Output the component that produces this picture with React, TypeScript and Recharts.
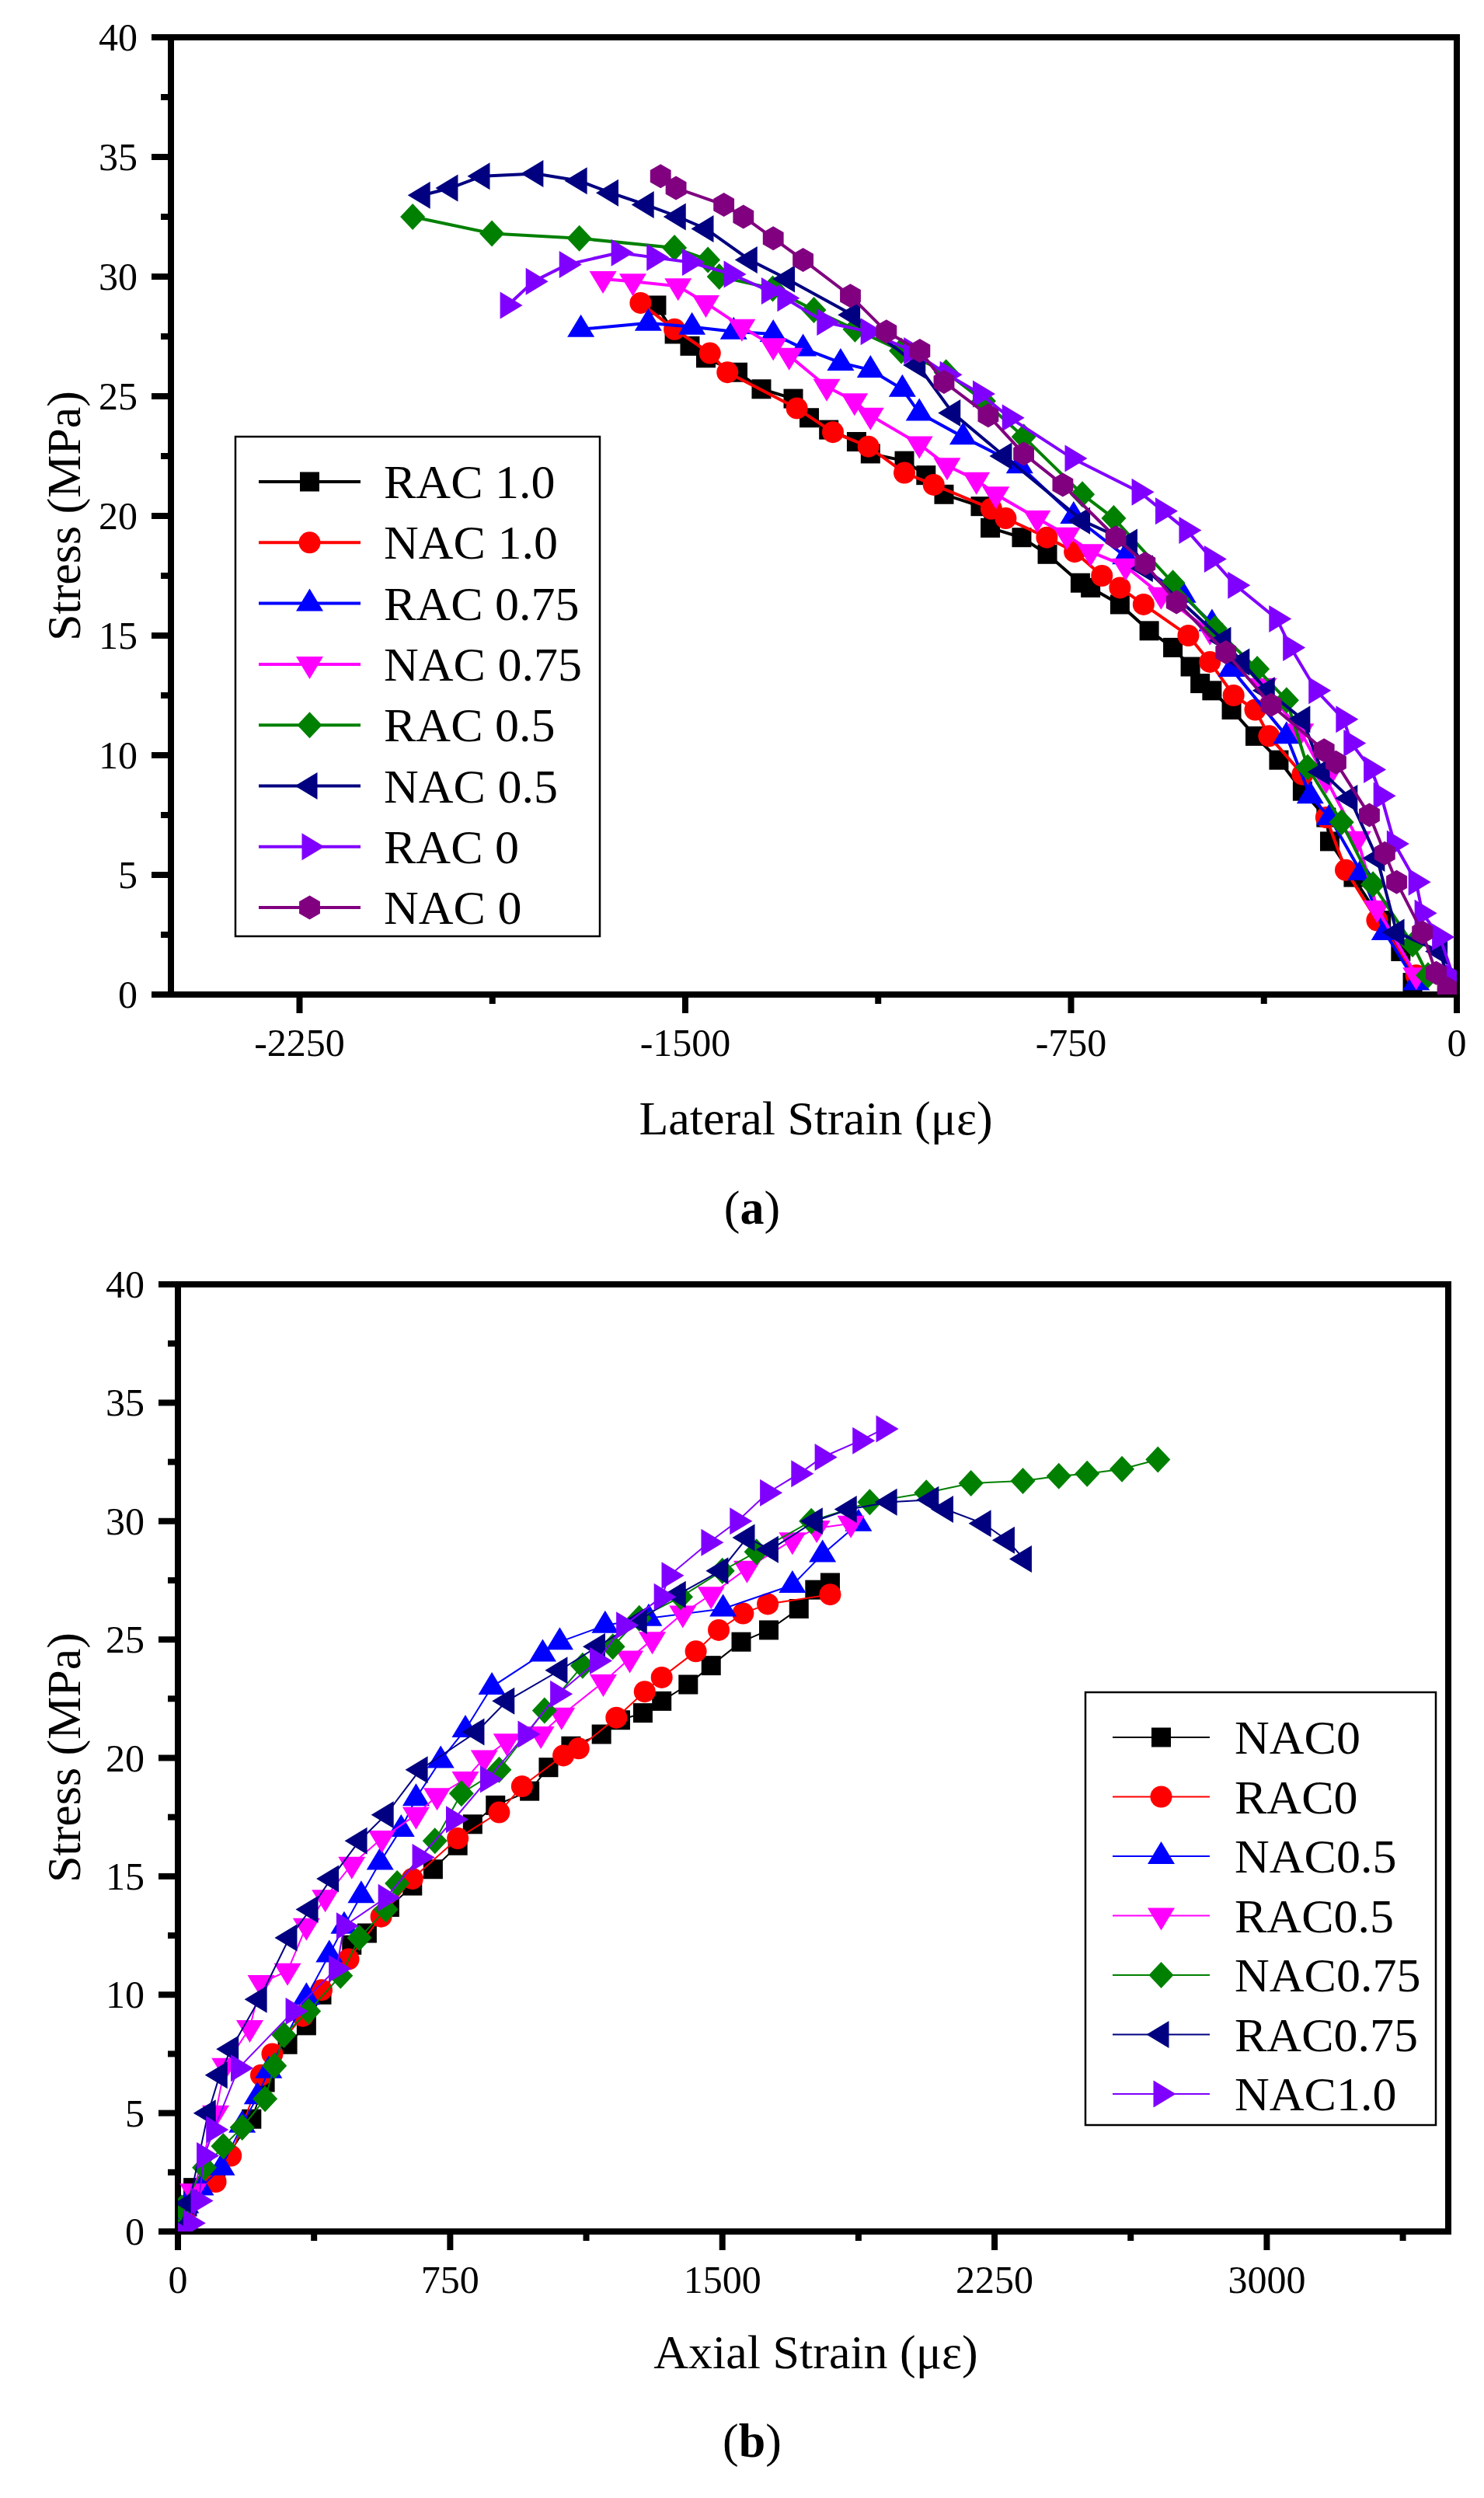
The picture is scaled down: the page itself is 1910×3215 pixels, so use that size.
import React from 'react';
import { ScatterChart, Scatter, XAxis, YAxis, ReferenceLine } from 'recharts';

const FONT = '"Liberation Serif", "Times New Roman", serif';
const TXT = { fontFamily: FONT };

// ---------------- Panel (a): Lateral strain ----------------
const aXTicksMajor = [-2250, -1500, -750, 0];
const aXTicksMinor = [-1875, -1125, -375];
const yTicksMajor = [0, 5, 10, 15, 20, 25, 30, 35, 40];
const yTicksMinor = [2.5, 7.5, 12.5, 17.5, 22.5, 27.5, 32.5, 37.5];

const aNames = ['RAC 1.0', 'NAC 1.0', 'RAC 0.75', 'NAC 0.75', 'RAC 0.5', 'NAC 0.5', 'RAC 0', 'NAC 0'];
const aColors = ['#000000', '#FF0000', '#0000FF', '#FF00FF', '#008000', '#000080', '#8000FF', '#800080'];
const aShapes = ['square', 'circle', 'up', 'down', 'diamond', 'left', 'right', 'hex'];

const aRAC10 = [[-1556,28.8],[-1521,27.6],[-1491,27.1],[-1460,26.6],[-1398,26.0],[-1352,25.3],[-1290,24.9],[-1259,24.1],[-1221,23.6],[-1167,23.1],[-1140,22.6],[-1074,22.3],[-1032,21.7],[-997,20.9],[-926,20.4],[-907,19.5],[-846,19.1],[-796,18.4],[-732,17.2],[-712,17.0],[-655,16.3],[-598,15.2],[-552,14.5],[-518,13.7],[-499,13.0],[-476,12.7],[-438,11.9],[-392,10.8],[-346,9.8],[-300,8.5],[-254,7.4],[-247,6.4],[-201,4.9],[-147,3.1],[-109,1.8],[-86,0.5]];
const aNAC10 = [[-1587,28.9],[-1521,27.8],[-1452,26.8],[-1418,26.0],[-1283,24.5],[-1213,23.5],[-1144,22.9],[-1074,21.8],[-1017,21.3],[-905,20.3],[-877,19.9],[-797,19.1],[-743,18.5],[-690,17.5],[-655,17.0],[-609,16.3],[-522,15.0],[-480,13.9],[-434,12.5],[-392,11.9],[-365,10.8],[-300,9.2],[-254,7.4],[-216,5.2],[-155,3.1],[-79,0.8]];
const aRAC075 = [[-1703,27.8],[-1572,28.06],[-1487,27.9],[-1406,27.7],[-1329,27.6],[-1271,27.0],[-1198,26.4],[-1140,26.1],[-1078,25.3],[-1045,24.3],[-960,23.3],[-850,22.1],[-745,20.0],[-644,18.3],[-533,16.7],[-476,15.5],[-438,13.6],[-331,10.8],[-285,8.3],[-247,7.4],[-186,5.1],[-140,2.6],[-79,0.5]];
const aNAC075 = [[-1660,29.9],[-1602,29.8],[-1514,29.6],[-1460,28.9],[-1390,27.9],[-1329,27.1],[-1298,26.7],[-1225,25.4],[-1171,24.8],[-1140,24.2],[-1045,23.0],[-991,22.1],[-934,21.5],[-896,20.9],[-816,19.9],[-758,19.2],[-712,18.5],[-644,17.9],[-575,16.7],[-480,15.2],[-376,12.9],[-304,11.0],[-254,9.0],[-193,6.5],[-155,3.6],[-79,0.8]];
const aRAC05 = [[-2030,32.5],[-1876,31.8],[-1706,31.6],[-1521,31.2],[-1456,30.7],[-1434,30.0],[-1330,29.5],[-1250,28.6],[-1170,27.8],[-1080,26.9],[-993,26.0],[-920,24.8],[-842,23.3],[-728,20.9],[-667,19.9],[-552,17.2],[-470,15.3],[-388,13.6],[-331,12.3],[-290,9.5],[-224,7.2],[-163,4.6],[-86,2.1],[-56,0.8]];
const aNAC05 = [[-2011,33.4],[-1957,33.7],[-1895,34.2],[-1791,34.3],[-1706,34.0],[-1645,33.5],[-1576,33.0],[-1514,32.5],[-1460,32.0],[-1375,30.7],[-1302,29.9],[-1175,28.4],[-1048,26.3],[-980,24.3],[-880,22.5],[-728,19.8],[-636,18.9],[-606,17.8],[-454,14.8],[-418,13.9],[-369,12.7],[-300,11.5],[-262,9.3],[-208,8.2],[-155,5.7],[-117,2.6],[-33,1.8],[-10,0.2]];
const aRAC0 = [[-1845,28.8],[-1795,29.8],[-1730,30.5],[-1629,31.0],[-1560,30.8],[-1491,30.6],[-1410,30.1],[-1337,29.4],[-1306,29.1],[-1229,28.1],[-1144,27.7],[-1060,26.9],[-990,25.9],[-926,25.1],[-869,24.1],[-747,22.4],[-617,21.0],[-571,20.2],[-525,19.4],[-476,18.2],[-430,17.1],[-350,15.7],[-323,14.5],[-273,12.7],[-220,11.5],[-205,10.5],[-166,9.4],[-147,8.3],[-121,6.3],[-79,4.7],[-67,3.4],[-33,2.4],[-6,0.7]];
const aNAC0 = [[-1548,34.2],[-1518,33.7],[-1425,33.0],[-1387,32.5],[-1329,31.6],[-1271,30.7],[-1179,29.2],[-1109,27.7],[-1044,26.9],[-997,25.6],[-911,24.2],[-842,22.6],[-766,21.3],[-663,19.1],[-606,18.0],[-545,16.4],[-449,14.3],[-361,12.1],[-258,10.2],[-235,9.7],[-170,7.5],[-140,5.9],[-117,4.7],[-67,2.6],[-40,0.9],[-18,0.25]];
const aSeries = [aRAC10, aNAC10, aRAC075, aNAC075, aRAC05, aNAC05, aRAC0, aNAC0];

// ---------------- Panel (b): Axial strain ----------------
const bXTicksMajor = [0, 750, 1500, 2250, 3000];
const bXTicksMinor = [375, 1125, 1875, 2625, 3375];

const bNames = ['NAC0', 'RAC0', 'NAC0.5', 'RAC0.5', 'NAC0.75', 'RAC0.75', 'NAC1.0'];
const bColors = ['#000000', '#FF0000', '#0000FF', '#FF00FF', '#008000', '#000080', '#8000FF'];
const bShapes = ['square', 'circle', 'up', 'down', 'diamond', 'left', 'right'];

const bNAC0 = [[0,0],[16,0.2],[42,1.85],[104,2.4],[203,4.75],[240,6.3],[302,7.9],[354,8.7],[396,10.0],[479,12.1],[521,12.6],[583,13.7],[646,14.6],[703,15.3],[771,16.3],[812,17.2],[875,18.0],[969,18.6],[1021,19.6],[1083,20.5],[1167,21.0],[1219,21.6],[1281,21.9],[1333,22.4],[1406,23.1],[1469,23.9],[1552,24.9],[1628,25.4],[1711,26.3],[1755,27.1],[1797,27.4]];
const bRAC0 = [[0,0],[21,0.8],[104,2.1],[146,3.2],[229,6.6],[260,7.5],[344,9.1],[396,10.2],[470,11.5],[560,13.3],[646,14.9],[771,16.6],[885,17.7],[948,18.8],[1062,20.1],[1104,20.4],[1208,21.7],[1286,22.8],[1333,23.4],[1427,24.5],[1490,25.4],[1557,26.1],[1625,26.5],[1797,26.9]];
const bNAC05 = [[0,0],[21,1.1],[62,1.85],[120,2.7],[177,4.5],[219,5.7],[250,6.8],[354,9.9],[417,11.7],[458,12.9],[505,14.2],[557,15.6],[615,17.0],[656,18.3],[724,19.9],[792,21.2],[865,23.0],[1005,24.4],[1052,24.9],[1177,25.6],[1297,25.9],[1502,26.3],[1693,27.3],[1776,28.6],[1875,29.9]];
const bRAC05 = [[0,0],[42,1.7],[104,5.0],[130,7.0],[198,8.6],[229,10.5],[302,11.0],[354,12.9],[406,14.1],[479,15.5],[562,16.6],[656,17.6],[714,18.4],[792,19.1],[844,20.0],[906,20.7],[1000,21.0],[1057,21.8],[1172,23.2],[1245,24.2],[1307,25.0],[1391,26.1],[1469,26.9],[1568,28.0],[1693,29.2],[1760,29.7],[1854,29.9]];
const bNAC075 = [[0,0],[10,1.0],[73,2.7],[125,3.6],[177,4.4],[240,5.6],[266,7.0],[292,8.3],[360,9.3],[448,10.8],[500,12.4],[573,13.6],[604,14.7],[708,16.5],[781,18.5],[885,19.5],[1010,22.0],[1115,23.9],[1198,24.7],[1271,25.9],[1385,26.8],[1500,27.9],[1594,28.7],[1745,30.0],[1906,30.8],[2062,31.2],[2185,31.6],[2328,31.7],[2427,31.9],[2505,32.0],[2601,32.2],[2700,32.6]];
const bRAC075 = [[0,0],[31,1.2],[83,5.0],[115,6.6],[146,7.7],[224,9.8],[307,12.4],[365,13.6],[422,14.9],[500,16.5],[573,17.6],[667,19.5],[823,21.1],[906,22.4],[1052,23.7],[1156,24.7],[1271,25.8],[1378,26.9],[1495,27.9],[1568,29.3],[1633,28.8],[1755,30.0],[1849,30.5],[1960,30.8],[2075,30.9],[2115,30.5],[2219,29.9],[2284,29.2],[2331,28.4]];
const bNAC10 = [[0,0],[36,0.35],[57,1.3],[73,3.2],[99,4.3],[167,6.9],[318,9.3],[437,11.1],[458,12.9],[573,14.1],[667,15.8],[760,17.4],[854,19.1],[958,21.0],[1047,22.7],[1156,24.1],[1229,25.6],[1333,26.8],[1354,27.7],[1463,29.1],[1542,30.0],[1625,31.2],[1711,32.0],[1776,32.7],[1880,33.4],[1945,33.9]];
const bSeries = [bNAC0, bRAC0, bNAC05, bRAC05, bNAC075, bRAC075, bNAC10];

// ---------------- helpers ----------------
function markerEl(kind: string, cx: number, cy: number, color: string, key?: any) {
  switch (kind) {
    case 'square':
      return <rect key={key} x={cx - 12.5} y={cy - 12.5} width={25} height={25} fill={color} />;
    case 'circle':
      return <circle key={key} cx={cx} cy={cy} r={14} fill={color} />;
    case 'up':
      return <polygon key={key} points={`${cx},${cy - 19} ${cx + 17.5},${cy + 10} ${cx - 17.5},${cy + 10}`} fill={color} />;
    case 'down':
      return <polygon key={key} points={`${cx},${cy + 19} ${cx + 17.5},${cy - 10} ${cx - 17.5},${cy - 10}`} fill={color} />;
    case 'left':
      return <polygon key={key} points={`${cx - 19},${cy} ${cx + 10},${cy - 17.5} ${cx + 10},${cy + 17.5}`} fill={color} />;
    case 'right':
      return <polygon key={key} points={`${cx + 19},${cy} ${cx - 10},${cy - 17.5} ${cx - 10},${cy + 17.5}`} fill={color} />;
    case 'diamond':
      return <polygon key={key} points={`${cx},${cy - 17} ${cx + 16},${cy} ${cx},${cy + 17} ${cx - 16},${cy}`} fill={color} />;
    case 'hex': {
      const r = 15.5;
      const pts = [0, 1, 2, 3, 4, 5]
        .map((i) => {
          const a = (Math.PI / 3) * i + Math.PI / 6;
          return `${cx + r * Math.cos(a)},${cy + r * Math.sin(a)}`;
        })
        .join(' ');
      return <polygon key={key} points={pts} fill={color} />;
    }
    default:
      return <circle key={key} cx={cx} cy={cy} r={12} fill={color} />;
  }
}

const makeShape = (kind: string, color: string) => (p: any) => {
  const cx = p.cx ?? (p.x + (p.width || 0) / 2);
  const cy = p.cy ?? (p.y + (p.height || 0) / 2);
  return markerEl(kind, cx, cy, color);
};

const makeXTick = (majors: number[]) => (props: any) => {
  const { x, y, payload } = props;
  const v = payload.value;
  const major = majors.includes(v);
  return (
    <g>
      <line x1={x} y1={y} x2={x} y2={y + (major ? 24 : 12)} stroke="#000" strokeWidth={8} />
      {major && (
        <text x={x} y={y + 79} textAnchor="middle" fontFamily={FONT} style={TXT} fontSize={50} fill="#000">
          {String(v)}
        </text>
      )}
    </g>
  );
};

const makeYTick = () => (props: any) => {
  const { x, y, payload } = props;
  const v = payload.value;
  const major = yTicksMajor.includes(v);
  return (
    <g>
      <line x1={x} y1={y} x2={x - (major ? 25 : 13)} y2={y} stroke="#000" strokeWidth={8} />
      {major && (
        <text x={x - 43} y={y + 17} textAnchor="end" fontFamily={FONT} style={TXT} fontSize={50} fill="#000">
          {String(v)}
        </text>
      )}
    </g>
  );
};

const toPts = (arr: number[][]) => arr.map(([x, y]) => ({ x, y }));

interface PanelProps {
  width: number;
  height: number;
  margin: { top: number; right: number; bottom: number; left: number };
  yAxisWidth: number;
  xDomain: [number, number];
  xMajor: number[];
  xMinor: number[];
  rightX: number;
  series: number[][][];
  colors: string[];
  shapes: string[];
  lineWidth: number;
}

function Panel(p: PanelProps) {
  const xTicks = [...p.xMajor, ...p.xMinor].sort((a, b) => a - b);
  const yTicks = [...yTicksMajor, ...yTicksMinor].sort((a, b) => a - b);
  return (
    <ScatterChart width={p.width} height={p.height} margin={p.margin}>
      <XAxis
        type="number"
        dataKey="x"
        domain={p.xDomain}
        ticks={xTicks}
        interval={0}
        height={80}
        tickSize={0}
        tickMargin={0}
        tickLine={false}
        axisLine={{ stroke: '#000', strokeWidth: 8 }}
        tick={makeXTick(p.xMajor)}
        allowDataOverflow
      />
      <YAxis
        type="number"
        dataKey="y"
        domain={[0, 40]}
        ticks={yTicks}
        interval={0}
        width={p.yAxisWidth}
        tickSize={0}
        tickMargin={0}
        tickLine={false}
        axisLine={{ stroke: '#000', strokeWidth: 8 }}
        tick={makeYTick()}
        allowDataOverflow
      />
      <ReferenceLine y={40} stroke="#000" strokeWidth={8} strokeLinecap="square" />
      <ReferenceLine x={p.rightX} stroke="#000" strokeWidth={8} strokeLinecap="square" />
      {p.series.map((s, i) => (
        <Scatter
          key={i}
          data={toPts(s)}
          fill={p.colors[i]}
          line={{ stroke: p.colors[i], strokeWidth: p.lineWidth }}
          lineType="joint"
          shape={makeShape(p.shapes[i], p.colors[i])}
          isAnimationActive={false}
        />
      ))}
    </ScatterChart>
  );
}

function LegendBox(props: {
  x0: number; y0: number; x1: number; y1: number;
  rowY: number; rowStep: number; lineX0: number; lineX1: number; textX: number;
  names: string[]; colors: string[]; shapes: string[]; lineWidth: number;
}) {
  const { x0, y0, x1, y1, rowY, rowStep, lineX0, lineX1, textX, names, colors, shapes, lineWidth } = props;
  const mx = (lineX0 + lineX1) / 2;
  return (
    <g>
      <rect x={x0} y={y0} width={x1 - x0} height={y1 - y0} fill="#fff" stroke="#000" strokeWidth={2.5} />
      {names.map((n, i) => {
        const y = rowY + i * rowStep;
        return (
          <g key={n}>
            <line x1={lineX0} y1={y} x2={lineX1} y2={y} stroke={colors[i]} strokeWidth={lineWidth} />
            {markerEl(shapes[i], mx, y, colors[i])}
            <text x={textX} y={y + 21} fontFamily={FONT} style={TXT} fontSize={62} fill="#000">
              {n}
            </text>
          </g>
        );
      })}
    </g>
  );
}

export default function App() {
  return (
    <div style={{ position: 'absolute', left: 0, top: 0, width: 1910, height: 3215, background: '#fff', overflow: 'hidden', fontFamily: FONT }}>
      <div style={{ position: 'absolute', left: 0, top: 0 }}>
        <Panel
          width={1910}
          height={1600}
          margin={{ top: 48, right: 35, bottom: 240, left: 0 }}
          yAxisWidth={220}
          xDomain={[-2500, 0]}
          xMajor={aXTicksMajor}
          xMinor={aXTicksMinor}
          rightX={0}
          series={aSeries}
          colors={aColors}
          shapes={aShapes}
          lineWidth={4}
        />
      </div>
      <div style={{ position: 'absolute', left: 0, top: 1600 }}>
        <Panel
          width={1910}
          height={1615}
          margin={{ top: 53, right: 46, bottom: 263, left: 0 }}
          yAxisWidth={229}
          xDomain={[0, 3500]}
          xMajor={bXTicksMajor}
          xMinor={bXTicksMinor}
          rightX={3500}
          series={bSeries}
          colors={bColors}
          shapes={bShapes}
          lineWidth={2}
        />
      </div>
      <svg
        width={1910}
        height={3215}
        style={{ position: 'absolute', left: 0, top: 0, pointerEvents: 'none' }}
      >
        {/* Panel (a) texts */}
        <text x={103} y={664} transform="rotate(-90, 103, 664)" textAnchor="middle" fontFamily={FONT} style={TXT} fontSize={62} fill="#000">
          Stress (MPa)
        </text>
        <text x={1050} y={1460} textAnchor="middle" fontFamily={FONT} style={TXT} fontSize={62} fill="#000">
          Lateral Strain (με)
        </text>
        <text x={968} y={1575} textAnchor="middle" fontFamily={FONT} style={TXT} fontSize={62} fill="#000">
          <tspan>(</tspan>
          <tspan fontWeight="bold">a</tspan>
          <tspan>)</tspan>
        </text>
        <LegendBox
          x0={303} y0={562} x1={772} y1={1205}
          rowY={620} rowStep={78.3} lineX0={333} lineX1={464} textX={494}
          names={aNames} colors={aColors} shapes={aShapes} lineWidth={4}
        />
        {/* Panel (b) texts */}
        <text x={103} y={2262} transform="rotate(-90, 103, 2262)" textAnchor="middle" fontFamily={FONT} style={TXT} fontSize={62} fill="#000">
          Stress (MPa)
        </text>
        <text x={1050} y={3048} textAnchor="middle" fontFamily={FONT} style={TXT} fontSize={62} fill="#000">
          Axial Strain (με)
        </text>
        <text x={968} y={3162} textAnchor="middle" fontFamily={FONT} style={TXT} fontSize={62} fill="#000">
          <tspan>(</tspan>
          <tspan fontWeight="bold">b</tspan>
          <tspan>)</tspan>
        </text>
        <LegendBox
          x0={1397} y0={2178} x1={1848} y1={2735}
          rowY={2236} rowStep={76.5} lineX0={1432} lineX1={1557} textX={1589}
          names={bNames} colors={bColors} shapes={bShapes} lineWidth={2}
        />
      </svg>
    </div>
  );
}
